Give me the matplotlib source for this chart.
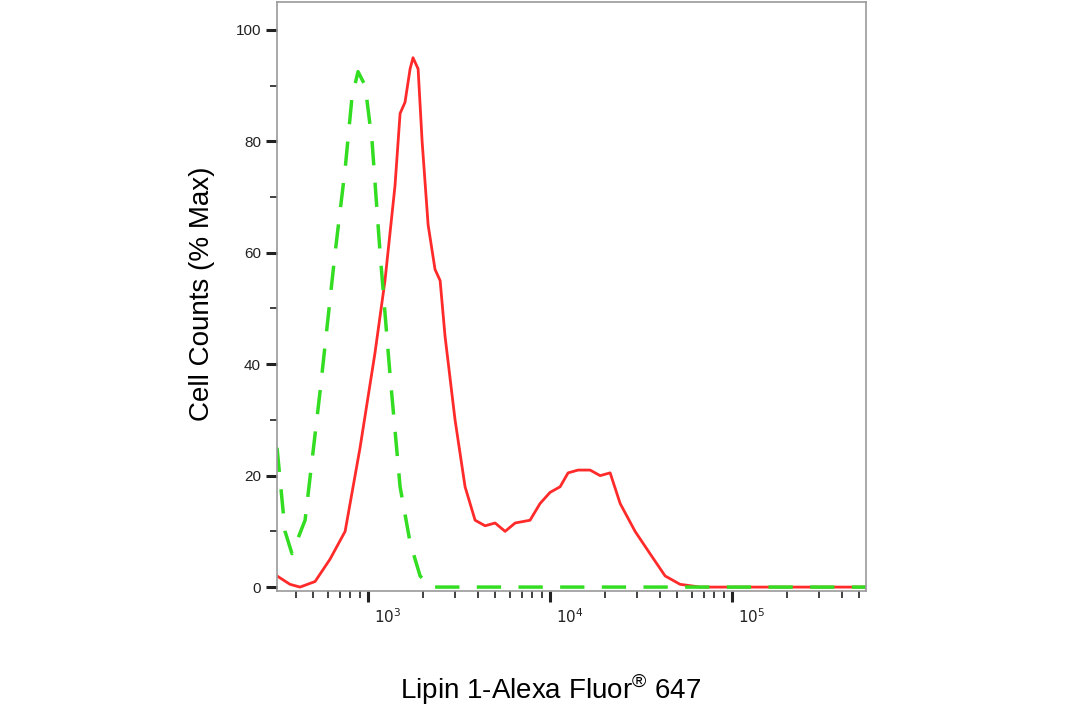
import numpy as np
import matplotlib.pyplot as plt
import matplotlib.transforms as mtransforms
from matplotlib.ticker import FixedLocator, NullFormatter

plt.rcParams["font.family"] = ["Liberation Sans", "DejaVu Sans"]

# log10 fluorescence intensity, % of max
red_log = [2.500, 2.571, 2.626, 2.709, 2.791, 2.874, 2.956, 3.038, 3.093, 3.148,
           3.176, 3.203, 3.231, 3.247, 3.275, 3.297, 3.330, 3.368, 3.396, 3.423,
           3.478, 3.533, 3.588, 3.643, 3.698, 3.753, 3.808, 3.890, 3.945, 4.000,
           4.055, 4.099, 4.154, 4.220, 4.275, 4.330, 4.385, 4.467, 4.549, 4.632,
           4.714, 4.824, 5.736]
red_val = [2, 0.5, 0, 1, 5, 10, 25, 42, 55, 72,
           85, 87, 93, 95, 93, 80, 65, 57, 55, 45,
           30, 18, 12, 11, 11.5, 10, 11.5, 12, 15, 17,
           18, 20.5, 21, 21, 20, 20.5, 15, 10, 6, 2,
           0.5, 0, 0]
green_log = [2.500, 2.544, 2.582, 2.654, 2.736, 2.819, 2.874, 2.912, 2.945, 2.984,
             3.022, 3.066, 3.121, 3.176, 3.231, 3.286, 3.341, 5.736]
green_val = [25, 10, 6, 12, 35, 60, 75, 88, 92.5, 90,
             80, 60, 38, 18, 8, 2, 0, 0]

fig = plt.figure(figsize=(10.92, 7.16), dpi=100)
ax = fig.add_axes([0.2537, 0.1746, 0.5394, 0.8226])

ax.plot(10 ** np.array(red_log), red_val, color="#ff2a2a", lw=2)
ax.plot(10 ** np.array(green_log), green_val, color="#33dd22", lw=2.5,
        dashes=(7, 5))

ax.set_xscale("log")
ax.set_xlim(10 ** 2.5, 10 ** 5.736)
ax.set_ylim(-0.7, 105)

ax.xaxis.set_major_locator(FixedLocator([1e3, 1e4, 1e5]))
ax.set_xticklabels([r"$10^3$", r"$10^4$", r"$10^5$"])
minors = [m * 10 ** e for e in range(2, 6) for m in range(2, 10)]
ax.xaxis.set_minor_locator(FixedLocator(minors))
ax.xaxis.set_minor_formatter(NullFormatter())
ax.set_yticks([0, 20, 40, 60, 80, 100])
ax.set_yticks(range(10, 101, 20), minor=True)

ax.tick_params(which="major", direction="out", length=8, width=2.2,
               labelsize=11, colors="#222222")
ax.tick_params(which="minor", direction="out", length=5, width=1.3,
               colors="#333333")
off = mtransforms.ScaledTranslation(20 / 100, 0, fig.dpi_scale_trans)
for lab in ax.get_xticklabels():
    lab.set_transform(lab.get_transform() + off)

for s in ax.spines.values():
    s.set_color("#999999")
    s.set_linewidth(1.2)

fig.text(0.185, 0.59, "Cell Counts (% Max)", rotation=90, fontsize=20,
         ha="center", va="center")
fig.text(0.504, 0.037, r"Lipin 1-Alexa Fluor$^{\mathregular{®}}$ 647",
         fontsize=20, ha="center", va="center")

fig.savefig("out.png", dpi=100)
